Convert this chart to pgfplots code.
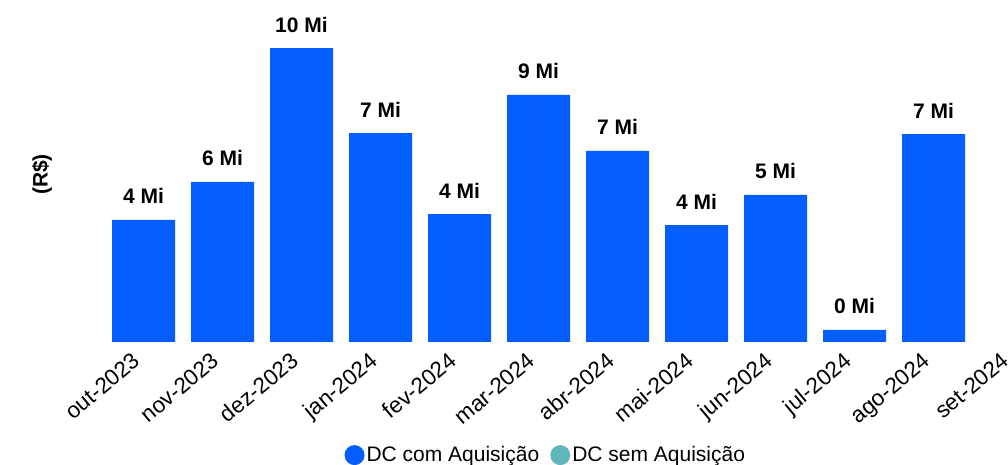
\documentclass[border=0pt]{standalone}
\usepackage{fontspec}
\setmainfont{Liberation Sans}
\usepackage{pgfplots}
\usepackage{pgfplotstable}
\pgfplotsset{compat=1.18}
\definecolor{cblue}{HTML}{045DFF}
\definecolor{cteal}{HTML}{60B6BC}
\pgfplotstableread[col sep=comma]{
x,y,lab
0,4.25,4 Mi
1,5.57,6 Mi
2,10.23,10 Mi
3,7.27,7 Mi
4,4.45,4 Mi
5,8.60,9 Mi
6,6.65,7 Mi
7,4.07,4 Mi
8,5.12,5 Mi
9,0.42,0 Mi
10,7.24,7 Mi
}\datatable
\begin{document}
\begin{tikzpicture}[x=1pt,y=1pt]
\useasboundingbox (0,0) rectangle (1008,465);
\begin{axis}[
  at={(104pt,123pt)}, anchor=south west,
  scale only axis, width=948pt, height=316pt,
  xmin=-0.5, xmax=11.5, ymin=0, ymax=11,
  axis line style={draw=none}, tick style={draw=none},
  major tick length=0pt,
  ytick=\empty,
  xtick={0,...,11},
  xticklabels={out-2023,nov-2023,dez-2023,jan-2024,fev-2024,mar-2024,abr-2024,mai-2024,jun-2024,jul-2024,ago-2024,set-2024},
  xticklabel style={rotate=40, anchor=north east, inner sep=2pt, xshift=-13pt, yshift=3pt, font=\fontsize{22.5}{25}\selectfont},
  ylabel={(R\$)},
  ylabel style={at={(axis description cs:-0.0654,0.53)}, anchor=center, font=\fontsize{21}{24}\selectfont\bfseries},
  clip=false,
  legend style={draw=none, fill=none, at={(axis description cs:0.466,-0.358)}, anchor=center,
    legend columns=2, font=\fontsize{21}{24}\selectfont,
    /tikz/every even column/.append style={column sep=9pt},
    nodes={inner sep=2pt}},
  legend image code/.code={\fill[#1] (0pt,0pt) circle (10pt);},
]
\addplot[ybar, bar width=63pt, fill=cblue, draw=none,
  nodes near coords, point meta=explicit symbolic,
  nodes near coords style={font=\fontsize{21}{24}\selectfont\bfseries, anchor=base, inner sep=0pt, yshift=16pt, text=black}]
  table[x=x, y=y, meta=lab] {\datatable};
\addlegendentry{DC com Aquisição}
\addlegendimage{fill=cteal, draw=none}
\addlegendentry{DC sem Aquisição}
\end{axis}
\end{tikzpicture}
\end{document}
